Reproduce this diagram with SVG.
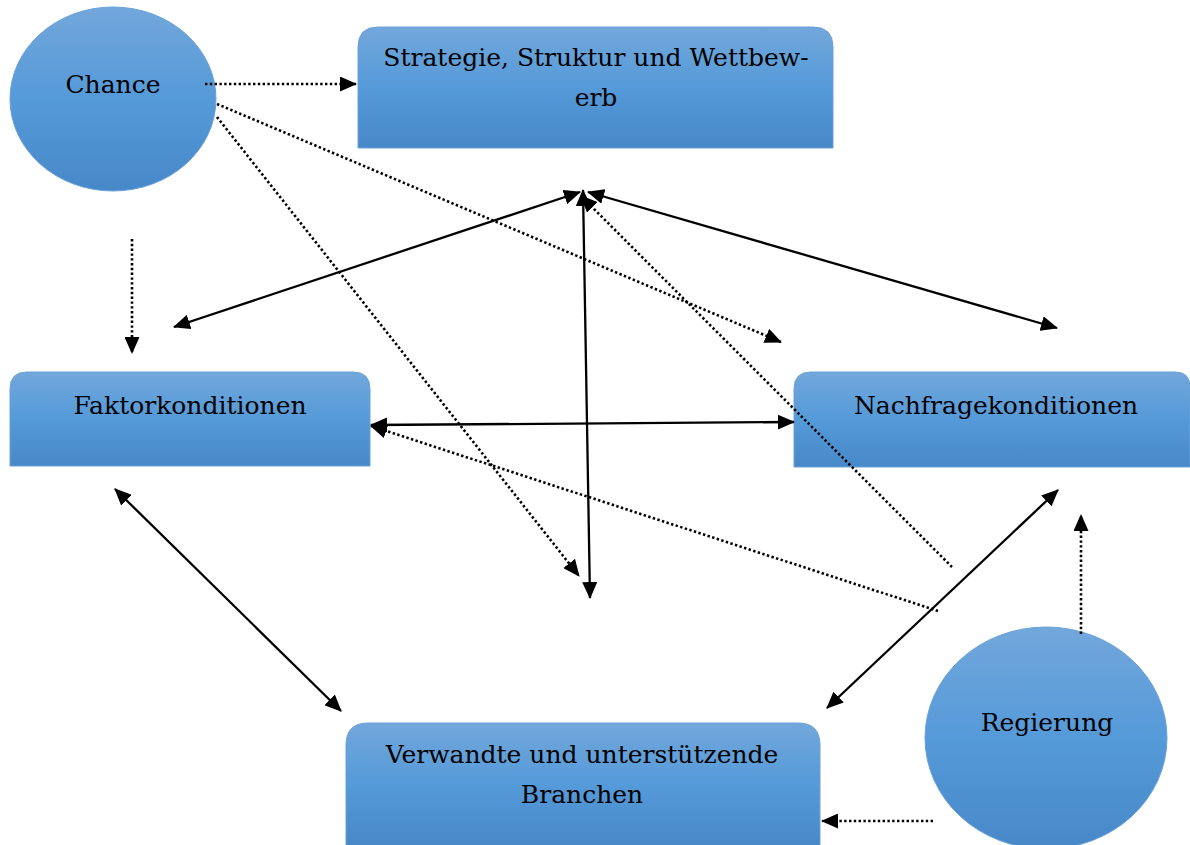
<svg xmlns="http://www.w3.org/2000/svg" width="1190" height="845" viewBox="0 0 1190 845">
  <style>
    .box { fill: url(#blueFill); stroke: #6aa2d8; stroke-width: 1; }
    .label { font-family: "DejaVu Serif", "Liberation Serif", serif; font-size: 25px; fill: #000; text-anchor: middle; }
    .solid { fill: none; stroke: #000; stroke-width: 2.3; }
    .dotted { fill: none; stroke: #000; stroke-width: 2.6; stroke-dasharray: 2.4 2.4; }
  </style>
  <defs>
    <linearGradient id="blueFill" x1="0" y1="0" x2="0" y2="1">
      <stop offset="0" stop-color="#72a7db"/>
      <stop offset="0.5" stop-color="#559ad9"/>
      <stop offset="1" stop-color="#4788c8"/>
    </linearGradient>
    <marker id="head" viewBox="0 0 17 15" refX="16" refY="7.5" markerWidth="17" markerHeight="15" markerUnits="userSpaceOnUse" orient="auto-start-reverse">
      <path d="M0,0 L17,7.5 L0,15 Z" fill="#000"/>
    </marker>
  </defs>

  <rect width="1190" height="845" fill="#fff"/>

  <!-- nodes -->
  <g id="chance">
    <ellipse class="box" cx="113" cy="99" rx="103" ry="92"/>
    <text class="label" x="113" y="93">Chance</text>
  </g>
  <g id="strategie">
    <path class="box" d="M358,148 L358,47 Q358,27 378,27 L813,27 Q833,27 833,47 L833,148 Z"/>
    <text class="label" x="596" y="66">Strategie, Struktur und Wettbew-</text>
    <text class="label" x="596" y="106">erb</text>
  </g>
  <g id="faktor">
    <path class="box" d="M10,466 L10,389 Q10,372 27,372 L353,372 Q370,372 370,389 L370,466 Z"/>
    <text class="label" x="190" y="414">Faktorkonditionen</text>
  </g>
  <g id="nachfrage">
    <path class="box" d="M794,467 L794,389 Q794,372 811,372 L1175,372 Q1190,372 1190,387 L1190,467 Z"/>
    <text class="label" x="996" y="414">Nachfragekonditionen</text>
  </g>
  <g id="branchen">
    <path class="box" d="M346,846 L346,745 Q346,723 368,723 L798,723 Q820,723 820,745 L820,846 Z"/>
    <text class="label" x="582" y="763">Verwandte und unterstützende</text>
    <text class="label" x="582" y="803">Branchen</text>
  </g>
  <g id="regierung">
    <ellipse class="box" cx="1046" cy="738" rx="121" ry="111"/>
    <text class="label" x="1047" y="731">Regierung</text>
  </g>

  <!-- connectors -->
  <g id="connectors">
    <!-- dotted influences -->
    <line class="dotted" x1="205" y1="84" x2="356" y2="84" marker-end="url(#head)"/>
    <line class="dotted" x1="217" y1="104" x2="781" y2="342" marker-end="url(#head)"/>
    <line class="dotted" x1="217" y1="117" x2="579" y2="576" marker-end="url(#head)"/>
    <line class="dotted" x1="132" y1="239" x2="132" y2="353" marker-end="url(#head)"/>
    <line class="dotted" x1="952" y1="567" x2="581" y2="196" marker-end="url(#head)"/>
    <line class="dotted" x1="938" y1="611" x2="371" y2="426" marker-end="url(#head)"/>
    <line class="dotted" x1="1081" y1="634" x2="1081" y2="515" marker-end="url(#head)"/>
    <line class="dotted" x1="933" y1="821" x2="822" y2="821" marker-end="url(#head)"/>

    <!-- solid mutual relations -->
    <line class="solid" x1="174" y1="327" x2="580" y2="192" marker-start="url(#head)" marker-end="url(#head)"/>
    <line class="solid" x1="588" y1="192" x2="1057" y2="328" marker-start="url(#head)" marker-end="url(#head)"/>
    <line class="solid" x1="583" y1="190" x2="590" y2="598" marker-start="url(#head)" marker-end="url(#head)"/>
    <line class="solid" x1="371" y1="425" x2="794" y2="422" marker-start="url(#head)" marker-end="url(#head)"/>
    <line class="solid" x1="115" y1="489" x2="341" y2="711" marker-start="url(#head)" marker-end="url(#head)"/>
    <line class="solid" x1="1058" y1="490" x2="827" y2="708" marker-start="url(#head)" marker-end="url(#head)"/>
  </g>
</svg>
